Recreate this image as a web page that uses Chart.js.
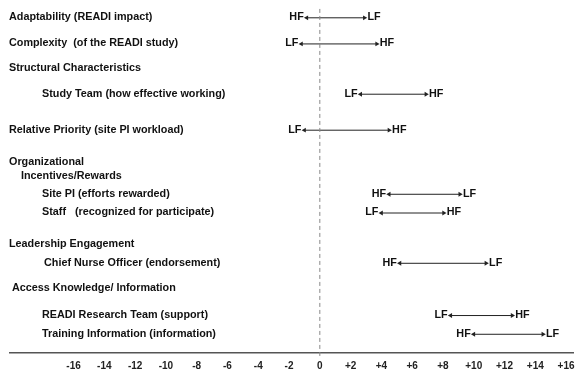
<!DOCTYPE html>
<html>
<head>
<meta charset="utf-8">
<script src="https://cdn.jsdelivr.net/npm/chart.js@4.4.0/dist/chart.umd.min.js"></script>
<style>
  html, body { margin: 0; padding: 0; background: #fff; }
  #wrap { width: 577px; height: 375px; }
</style>
</head>
<body>
<div id="wrap"><canvas id="chart"></canvas></div>
<script>
// rows, top to bottom (headers have no arrow)
const rowLabels = [
  'Adaptability (READI impact)',
  'Complexity  (of the READI study)',
  'Structural Characteristics',
  'Study Team (how effective working)',
  'Relative Priority (site PI workload)',
  'Organizational',
  'Incentives/Rewards',
  'Site PI (efforts rewarded)',
  'Staff   (recognized for participate)',
  'Leadership Engagement',
  'Chief Nurse Officer (endorsement)',
  'Access Knowledge/ Information',
  'READI Research Team (support)',
  'Training Information (information)'
];
const rowPos = [0.56, 1.62, 2.62, 3.66, 5.12, 6.44, 7.0, 7.72, 8.48, 9.76, 10.52, 11.56, 12.64, 13.4];
const lowValues  = [-0.85, -1.2, null, 2.65, -1.0, null, null, 4.5, 4.0, null, 5.2, null, 8.5, 10.0];
const highValues = [2.9, 3.7, null, 6.9, 4.5, null, null, 9.1, 8.05, null, 10.8, null, 12.5, 14.5];
const leftTags  = ['HF', 'LF', '', 'LF', 'LF', '', '', 'HF', 'LF', '', 'HF', '', 'LF', 'HF'];
const rightTags = ['LF', 'HF', '', 'HF', 'HF', '', '', 'LF', 'HF', '', 'LF', '', 'HF', 'LF'];
const tickValues = [-16, -14, -12, -10, -8, -6, -4, -2, 0, 2, 4, 6, 8, 10, 12, 14, 16];

const indents = [0, 0, 0, 33, 0, 0, 12, 33, 33, 0, 35, 3, 33, 33];
const FONT = 'bold 10.8px "Liberation Sans", Arial, sans-serif';

const arrowSets = rowLabels.map((t, i) => lowValues[i] == null ? null : {
  data: [{ x: lowValues[i], y: rowPos[i] }, { x: highValues[i], y: rowPos[i] }],
  showLine: true,
  borderColor: '#222',
  backgroundColor: '#222',
  borderWidth: 1,
  pointStyle: 'triangle',
  pointRotation: [270, 90],
  pointRadius: 2.8,
  pointBorderWidth: 0
}).filter(Boolean);

const zeroLine = {
  data: [{ x: 0, y: 0.2 }, { x: 0, y: 14.3 }],
  showLine: true,
  borderColor: '#888',
  borderWidth: 1,
  borderDash: [4, 3],
  pointRadius: 0,
  clip: false
};

const textPlugin = {
  id: 'rowText',
  afterDatasetsDraw(chart) {
    const { ctx, scales: { x, y } } = chart;
    ctx.save();
    ctx.font = FONT;
    ctx.fillStyle = '#111';
    ctx.textBaseline = 'middle';
    rowLabels.forEach((t, i) => {
      const py = y.getPixelForValue(rowPos[i]) - 0.5;
      ctx.textAlign = 'left';
      ctx.fillText(t, 9 + indents[i], py);
      if (lowValues[i] == null) return;
      ctx.textAlign = 'right';
      ctx.fillText(leftTags[i], x.getPixelForValue(lowValues[i]) - 3, py);
      ctx.textAlign = 'left';
      ctx.fillText(rightTags[i], x.getPixelForValue(highValues[i]) + 3, py);
    });
    ctx.restore();
  }
};

new Chart(document.getElementById('chart'), {
  type: 'scatter',
  data: { datasets: [zeroLine, ...arrowSets] },
  options: {
    responsive: true,
    maintainAspectRatio: false,
    animation: false,
    layout: { padding: { left: 10, right: 0, top: 0, bottom: -4 } },
    plugins: { legend: { display: false }, tooltip: { enabled: false } },
    scales: {
      x: {
        type: 'linear',
        min: -20.13,
        max: 16.45,
        afterFit: (scale) => { scale.paddingRight = 0; },
        grid: { display: false, drawTicks: false, tickLength: 0 },
        border: { display: true, color: '#555', width: 1.5 },
        ticks: {
          stepSize: 2,
          includeBounds: false,
          autoSkip: false,
          maxRotation: 0,
          padding: 7,
          color: '#222',
          font: { family: '"Liberation Sans", Arial, sans-serif', size: 10, weight: 'bold' },
          callback: (v) => {
            const n = Math.round(v);
            if (Math.abs(v - n) > 1e-6 || !tickValues.includes(n)) return '';
            return n > 0 ? '+' + n : String(n);
          }
        }
      },
      y: {
        type: 'linear',
        reverse: true,
        min: 0,
        max: 14.16,
        display: false
      }
    }
  },
  plugins: [textPlugin]
});
</script>
</body>
</html>
